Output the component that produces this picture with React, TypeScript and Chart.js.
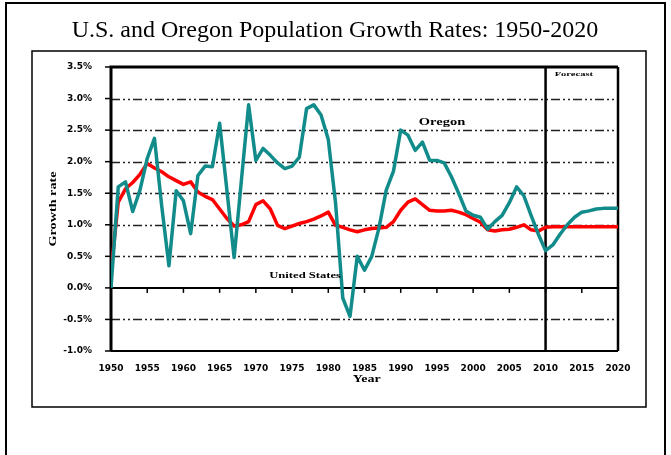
import React, { useEffect, useRef } from "react";
import { Chart, registerables } from "chart.js";

Chart.register(...registerables);

const START_YEAR = 1950;
const END_YEAR = 2020;
const FORECAST_YEAR = 2010;

const oregonRates = [
  0.0, 1.6, 1.68, 1.21, 1.55, 2.05, 2.37, 1.3, 0.35, 1.54,
  1.38, 0.86, 1.78, 1.93, 1.92, 2.61, 1.55, 0.48, 1.7, 2.9,
  2.02, 2.21, 2.1, 1.98, 1.89, 1.93, 2.07, 2.84, 2.9, 2.74,
  2.35, 1.35, -0.16, -0.45, 0.5, 0.28, 0.5, 0.95, 1.55, 1.85,
  2.5, 2.42, 2.18, 2.31, 2.02, 2.02, 1.98, 1.76, 1.5, 1.22,
  1.15, 1.12, 0.93, 1.05, 1.15, 1.35, 1.6, 1.46, 1.15, 0.85,
  0.59, 0.68, 0.85, 1.0, 1.12, 1.2, 1.22, 1.25, 1.26, 1.26,
  1.26,
];

const usRates = [
  0.25, 1.36, 1.57, 1.67, 1.8, 1.97, 1.9, 1.84, 1.76, 1.7,
  1.64, 1.68, 1.52, 1.45, 1.4, 1.25, 1.1, 0.98, 1.0, 1.05,
  1.32, 1.38, 1.25, 0.99, 0.94, 0.98, 1.02, 1.05, 1.09, 1.14,
  1.2, 0.99, 0.96, 0.92, 0.89, 0.92, 0.94, 0.95, 0.96, 1.05,
  1.23, 1.36, 1.41, 1.32, 1.23, 1.22, 1.22, 1.23, 1.2, 1.16,
  1.1, 1.04, 0.92, 0.9, 0.92, 0.93, 0.96, 1.0, 0.92, 0.9,
  0.96, 0.97, 0.97, 0.97, 0.97, 0.97, 0.97, 0.97, 0.97, 0.97,
  0.97,
];

const years = oregonRates.map((_, i) => START_YEAR + i);

const yTickValues = [-1.0, -0.5, 0.0, 0.5, 1.0, 1.5, 2.0, 2.5, 3.0, 3.5];
const xTickYears = [1950, 1955, 1960, 1965, 1970, 1975, 1980, 1985, 1990, 1995, 2000, 2005, 2010, 2015, 2020];

const TITLE = "U.S. and Oregon Population Growth Rates: 1950-2020";
const TEAL = "#128b8b";
const RED = "#ff0000";

function drawStretched(ctx: CanvasRenderingContext2D, text: string, x: number, y: number, font: string, sx: number, rot = 0) {
  ctx.save();
  ctx.translate(x, y);
  if (rot) ctx.rotate(rot);
  ctx.scale(sx, 1);
  ctx.font = font;
  ctx.fillStyle = "#000";
  ctx.textAlign = "center";
  ctx.textBaseline = "middle";
  ctx.fillText(text, 0, 0);
  ctx.restore();
}

const decorPlugin = {
  id: "decor",
  beforeDraw(chart: any) {
    const ctx = chart.ctx as CanvasRenderingContext2D;
    ctx.save();
    ctx.fillStyle = "#fff";
    ctx.fillRect(0, 0, chart.width, chart.height);
    ctx.strokeStyle = "#000";
    ctx.lineWidth = 2;
    ctx.strokeRect(6, 3, 659, 470);
    ctx.lineWidth = 1.5;
    ctx.strokeRect(32, 51, 614, 356);
    ctx.fillStyle = "#000";
    ctx.font = "24px 'Liberation Serif'";
    ctx.textAlign = "center";
    ctx.textBaseline = "middle";
    ctx.fillText(TITLE, 335, 31);
    ctx.restore();
  },
  beforeDatasetsDraw(chart: any) {
    const ctx = chart.ctx as CanvasRenderingContext2D;
    const xs = chart.scales.x;
    const ys = chart.scales.y;
    const { left, right, top, bottom } = chart.chartArea;
    ctx.save();
    ctx.strokeStyle = "#222";
    ctx.lineWidth = 1.5;
    ctx.setLineDash([9, 3, 2, 3, 2, 3]);
    yTickValues.forEach((v) => {
      if (v === 0 || v === 3.5 || v === -1.0) return;
      const y = Math.round(ys.getPixelForValue(v)) + 0.5;
      ctx.beginPath();
      ctx.moveTo(left, y);
      ctx.lineTo(right, y);
      ctx.stroke();
    });
    ctx.setLineDash([]);
    ctx.strokeStyle = "#000";
    const y0 = ys.getPixelForValue(0);
    ctx.lineWidth = 2;
    ctx.beginPath();
    ctx.moveTo(left, y0);
    ctx.lineTo(right, y0);
    ctx.stroke();
    ctx.lineWidth = 1.5;
    xTickYears.forEach((yr) => {
      if (yr === START_YEAR || yr === END_YEAR) return;
      const x = xs.getPixelForValue(yr);
      ctx.beginPath();
      ctx.moveTo(x, y0);
      ctx.lineTo(x, y0 + 5);
      ctx.stroke();
    });
    yTickValues.forEach((v) => {
      const y = ys.getPixelForValue(v);
      ctx.beginPath();
      ctx.moveTo(left - 6, y);
      ctx.lineTo(left, y);
      ctx.stroke();
    });
    ctx.lineWidth = 3;
    ctx.beginPath();
    ctx.moveTo(left, bottom);
    ctx.lineTo(left, top);
    ctx.lineTo(right, top);
    ctx.stroke();
    ctx.lineWidth = 2.5;
    ctx.beginPath();
    ctx.moveTo(right, top);
    ctx.lineTo(right, bottom);
    ctx.stroke();
    ctx.lineWidth = 2;
    ctx.beginPath();
    ctx.moveTo(left, bottom);
    ctx.lineTo(right, bottom);
    ctx.stroke();
    const xf = xs.getPixelForValue(FORECAST_YEAR);
    ctx.lineWidth = 2.5;
    ctx.beginPath();
    ctx.moveTo(xf, top);
    ctx.lineTo(xf, bottom);
    ctx.stroke();
    ctx.restore();
  },
  afterDatasetsDraw(chart: any) {
    const ctx = chart.ctx as CanvasRenderingContext2D;
    const xs = chart.scales.x;
    const ys = chart.scales.y;
    drawStretched(ctx, "Oregon", xs.getPixelForValue(1995.7), ys.getPixelForValue(2.62), "bold 10px 'Liberation Serif'", 1.45);
    drawStretched(ctx, "United States", xs.getPixelForValue(1976.8), ys.getPixelForValue(0.19), "bold 9px 'Liberation Serif'", 1.4);
    drawStretched(ctx, "Forecast", xs.getPixelForValue(2013.9), ys.getPixelForValue(3.38), "bold 7px 'Liberation Serif'", 1.5);
    drawStretched(ctx, "Year", xs.getPixelForValue(1985.3), 379, "bold 10px 'Liberation Serif'", 1.4);
    drawStretched(ctx, "Growth rate", 53, ys.getPixelForValue(1.25), "bold 10px 'Liberation Serif'", 1.42, -Math.PI / 2);
  },
};

export default function App() {
  const canvasRef = useRef<HTMLCanvasElement | null>(null);

  useEffect(() => {
    const canvas = canvasRef.current;
    if (!canvas) return;
    const chart = new Chart(canvas, {
      type: "line",
      data: {
        datasets: [
          {
            label: "Oregon",
            data: years.map((yr, i) => ({ x: yr, y: oregonRates[i] })),
            borderColor: TEAL,
            borderWidth: 3.5,
            borderJoinStyle: "round",
            pointRadius: 0,
            tension: 0,
            fill: false,
          },
          {
            label: "United States",
            data: years.map((yr, i) => ({ x: yr, y: usRates[i] })),
            borderColor: RED,
            borderWidth: 3.5,
            borderJoinStyle: "round",
            pointRadius: 0,
            tension: 0,
            fill: false,
          },
        ],
      },
      options: {
        responsive: false,
        animation: false,
        devicePixelRatio: 1,
        layout: { padding: { left: 0, top: 67, right: 53, bottom: 64 } },
        plugins: {
          legend: { display: false },
          title: { display: false },
          tooltip: { enabled: false },
        },
        scales: {
          x: {
            type: "linear",
            min: START_YEAR,
            max: END_YEAR,
            grid: { display: false },
            border: { display: false },
            afterBuildTicks: (scale: any) => {
              scale.ticks = xTickYears.map((v) => ({ value: v }));
            },
            afterFit: (scale: any) => {
              scale.height = 40;
            },
            ticks: {
              autoSkip: false,
              maxRotation: 0,
              padding: 4,
              color: "#000",
              font: { family: "'DejaVu Sans'", weight: "bold", size: 9 },
              callback: (v: any) => String(v),
            },
          },
          y: {
            min: -1,
            max: 3.5,
            grid: { display: false },
            border: { display: false },
            afterBuildTicks: (scale: any) => {
              scale.ticks = yTickValues.map((v) => ({ value: v }));
            },
            afterFit: (scale: any) => {
              scale.width = 111;
            },
            ticks: {
              padding: 11,
              color: "#000",
              font: { family: "'DejaVu Sans'", weight: "bold", size: 9 },
              callback: (v: any) => Number(v).toFixed(1) + "%",
            },
          },
        },
      },
      plugins: [decorPlugin],
    } as any);
    return () => chart.destroy();
  }, []);

  return (
    <div style={{ position: "absolute", left: 0, top: 0, width: 671, height: 455, overflow: "hidden" }}>
      <canvas ref={canvasRef} width={671} height={455} style={{ display: "block", width: 671, height: 455 }} />
    </div>
  );
}
